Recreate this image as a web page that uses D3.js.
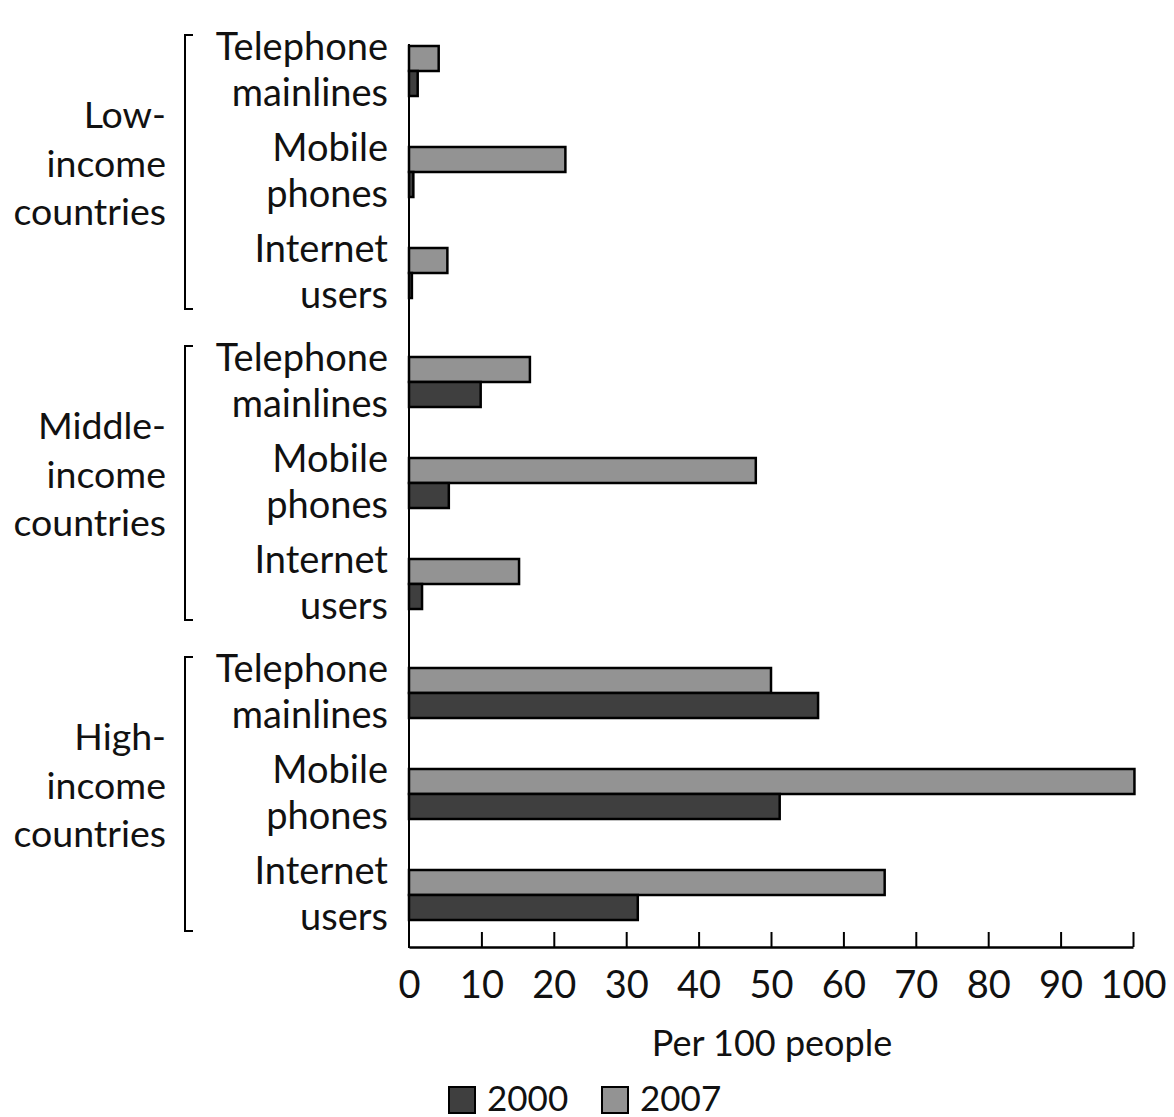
<!DOCTYPE html>
<html>
<head>
<meta charset="utf-8">
<script src="https://cdn.jsdelivr.net/npm/d3@7"></script>
<style>
  html, body { margin: 0; padding: 0; background: #fff; }
  svg { display: block; }
  text { font-family: Lato, "Liberation Sans", sans-serif; fill: #111; }
</style>
</head>
<body>
<svg id="chart" width="1174" height="1117"></svg>
<script>
const groups = ["Low-income countries", "Middle-income countries", "High-income countries"];
const groupLabelLines = [["Low-", "income", "countries"], ["Middle-", "income", "countries"], ["High-", "income", "countries"]];
const categories = ["Telephone mainlines", "Mobile phones", "Internet users"];
const categoryLabelLines = [["Telephone", "mainlines"], ["Mobile", "phones"], ["Internet", "users"]];
const seriesNames = ["2007", "2000"];
const values2000 = [
  [1.2, 0.6, 0.4],
  [9.9, 5.5, 1.8],
  [56.5, 51.2, 31.6]
];
const values2007 = [
  [4.1, 21.6, 5.3],
  [16.7, 47.9, 15.2],
  [50.0, 100.2, 65.7]
];
const xTicks = [0, 10, 20, 30, 40, 50, 60, 70, 80, 90, 100];
const xTitle = "Per 100 people";
const legendItems = ["2000", "2007"];
const colors = { "2000": "#3f3f3f", "2007": "#939393" };

const svg = d3.select("#chart");

const x = d3.scaleLinear().domain([0, 100]).range([409, 1133]);
const yGroup = d3.scaleBand().domain(groups).range([46, 920]).paddingInner(59 / 311).paddingOuter(0);
const yCat = d3.scaleBand().domain(categories).range([0, yGroup.bandwidth()]).paddingInner(51 / 101).paddingOuter(0);
const ySeries = d3.scaleBand().domain(seriesNames).range([0, yCat.bandwidth()]).padding(0);

const rows = [];
groups.forEach((g, gi) => {
  categories.forEach((c, ci) => {
    rows.push({ g, c, s: "2007", v: values2007[gi][ci] });
    rows.push({ g, c, s: "2000", v: values2000[gi][ci] });
  });
});

// bars
svg.append("g").selectAll("rect").data(rows).join("rect")
  .attr("x", x(0))
  .attr("y", d => yGroup(d.g) + yCat(d.c) + ySeries(d.s))
  .attr("width", d => x(d.v) - x(0))
  .attr("height", ySeries.bandwidth())
  .attr("fill", d => colors[d.s])
  .attr("stroke", "#000")
  .attr("stroke-width", 2.5);

// y axis line
svg.append("line")
  .attr("x1", x(0)).attr("x2", x(0))
  .attr("y1", 44).attr("y2", 948)
  .attr("stroke", "#000").attr("stroke-width", 2);

// x axis
const xAxis = d3.axisBottom(x).tickValues(xTicks).tickSizeInner(-15).tickSizeOuter(0).tickFormat(d3.format("d"));
const gx = svg.append("g").attr("transform", "translate(0,947)").call(xAxis);
gx.select(".domain").attr("stroke", "#000").attr("stroke-width", 2.5);
gx.selectAll(".tick line").attr("stroke", "#000").attr("stroke-width", 2)
  .filter(d => d === 0).remove();
gx.selectAll(".tick text")
  .attr("y", 51).attr("dy", 0)
  .style("font-family", "Lato, 'Liberation Sans', sans-serif")
  .style("font-size", "38px").attr("fill", "#111");

svg.append("text")
  .attr("x", 772).attr("y", 1056)
  .attr("text-anchor", "middle")
  .style("font-size", "36px")
  .text(xTitle);

// category labels
groups.forEach((g, gi) => {
  categories.forEach((c, ci) => {
    const cy = yGroup(g) + yCat(c) + yCat.bandwidth() / 2;
    const t = svg.append("text").attr("text-anchor", "end").style("font-size", "38px");
    categoryLabelLines[ci].forEach((ln, li) => {
      t.append("tspan").attr("x", 388).attr("y", cy - 11.5 + li * 46).text(ln);
    });
  });
  // group labels
  const top = yGroup(g), bot = yGroup(g) + yGroup.bandwidth();
  const gc = (top + bot) / 2;
  const t = svg.append("text").attr("text-anchor", "end").style("font-size", "37.5px");
  groupLabelLines[gi].forEach((ln, li) => {
    t.append("tspan").attr("x", 166).attr("y", gc - 44 + li * 48.5).text(ln);
  });
  // bracket
  const b0 = top - 11, b1 = bot + 11;
  svg.append("path")
    .attr("d", `M193,${b0} H185 V${b1} H193`)
    .attr("fill", "none").attr("stroke", "#000").attr("stroke-width", 2);
});

// legend
const legendX = [449, 602];
legendItems.forEach((s, i) => {
  svg.append("rect")
    .attr("x", legendX[i]).attr("y", 1087)
    .attr("width", 26).attr("height", 26)
    .attr("fill", colors[s]).attr("stroke", "#000").attr("stroke-width", 2);
  svg.append("text")
    .attr("x", legendX[i] + 38).attr("y", 1111)
    .style("font-size", "35px")
    .text(s);
});
</script>
</body>
</html>
